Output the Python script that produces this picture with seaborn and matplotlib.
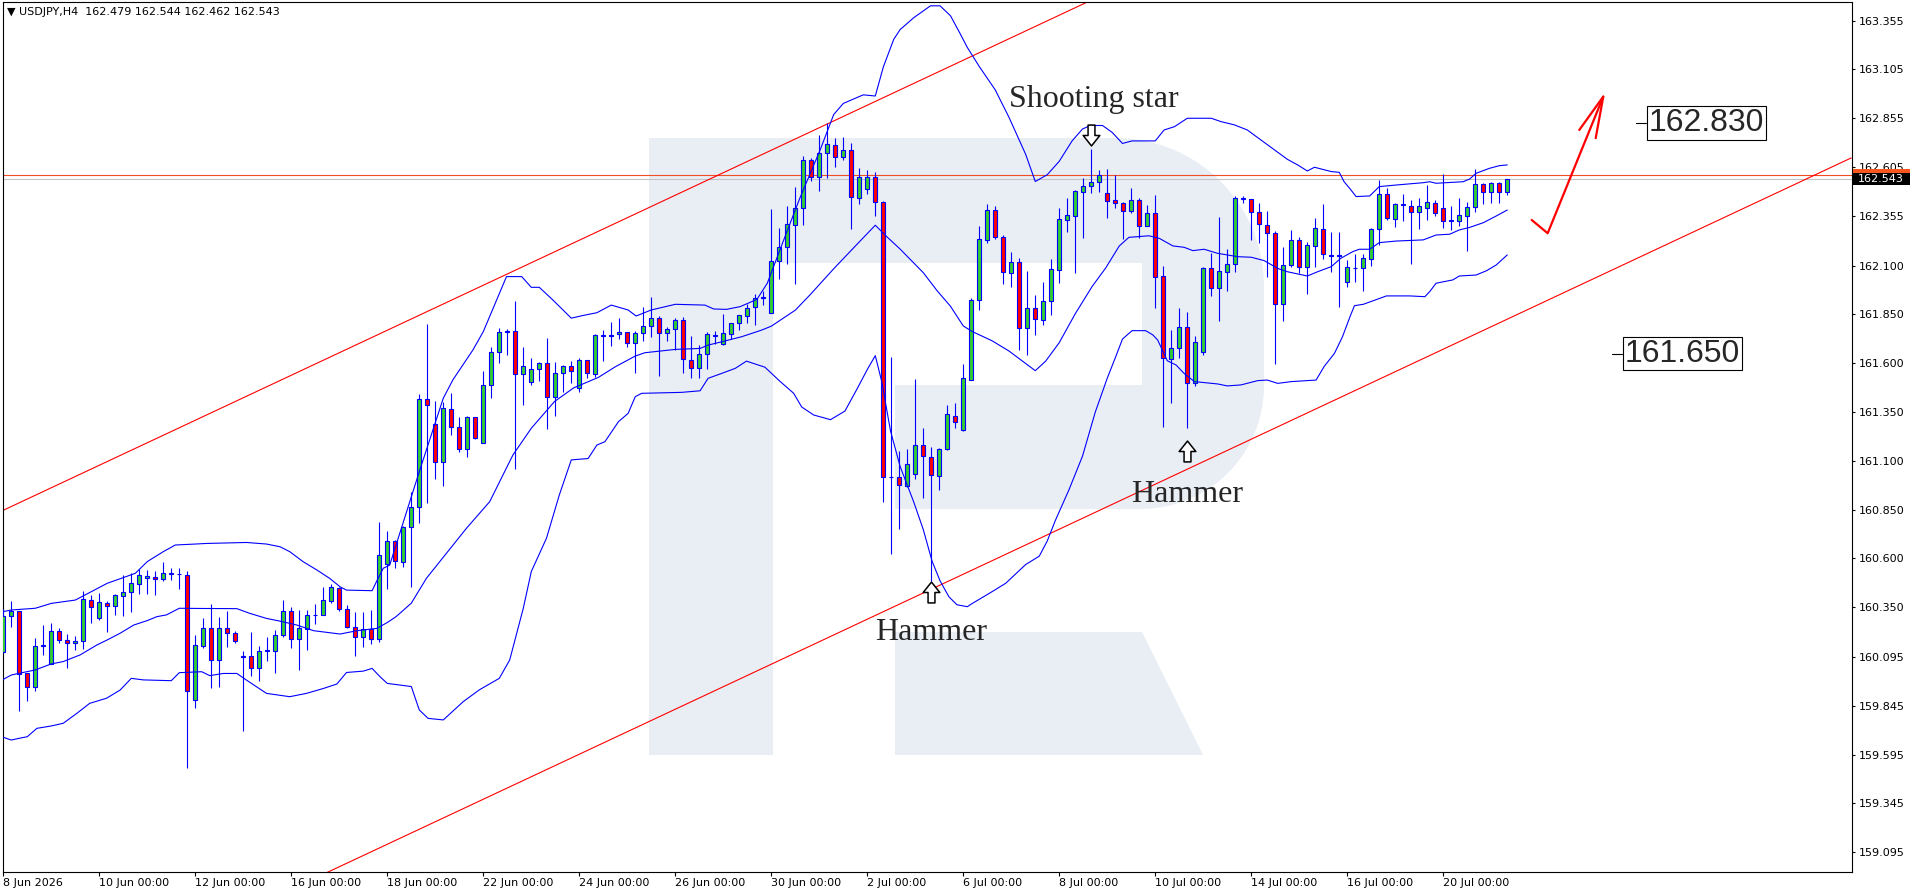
import numpy as np
import matplotlib
matplotlib.use("Agg")
import matplotlib.pyplot as plt
import matplotlib.transforms as mtransforms
from matplotlib.path import Path
from matplotlib.patches import Polygon, Rectangle
import seaborn as sns

sns.set_style("white")
plt.rcParams['font.family'] = ['DejaVu Sans']

# ---- USDJPY H4 candles ----
opens = [160.119, 160.307, 160.331, 160.015, 159.944, 160.152, 160.060, 160.227, 160.181, 160.166,
         160.176, 160.388, 160.297, 160.372, 160.355, 160.410, 160.427, 160.471, 160.502, 160.505,
         160.493, 160.520, 160.519, 160.514, 159.875, 160.153, 160.242, 160.078, 160.242, 160.216,
         160.098, 160.098, 160.037, 160.124, 160.124, 160.206, 160.329, 160.185, 160.240, 160.308,
         160.312, 160.380, 160.447, 160.339, 160.250, 160.196, 160.237, 160.185, 160.571, 160.690,
         160.582, 160.760, 160.862, 161.416, 161.288, 161.093, 161.364, 161.272, 161.160, 161.323,
         161.194, 161.487, 161.656, 161.759, 161.764, 161.544, 161.503, 161.569, 161.600, 161.426,
         161.549, 161.585, 161.472, 161.615, 161.543, 161.739, 161.742, 161.748, 161.758, 161.702,
         161.753, 161.789, 161.830, 161.753, 161.774, 161.820, 161.615, 161.574, 161.646, 161.739,
         161.697, 161.748, 161.804, 161.840, 161.886, 161.936, 161.855, 162.125, 162.194, 162.307,
         162.394, 162.641, 162.554, 162.675, 162.716, 162.657, 162.692, 162.449, 162.493, 162.554,
         162.424, 161.017, 161.017, 160.971, 161.031, 161.183, 161.118, 161.021, 161.159, 161.331,
         161.258, 161.515, 161.923, 162.232, 162.387, 162.248, 162.062, 162.120, 161.779, 161.883,
         161.823, 161.920, 162.080, 162.335, 162.354, 162.479, 162.510, 162.526, 162.474, 162.436,
         162.423, 162.380, 162.436, 162.305, 162.371, 162.046, 161.621, 161.677, 161.785, 161.498,
         161.656, 162.087, 161.984, 162.070, 162.107, 162.445, 162.440, 162.374, 162.307, 162.266,
         161.904, 162.104, 162.230, 162.092, 162.199, 162.288, 162.153, 162.150, 162.015, 162.086,
         162.086, 162.134, 162.286, 162.466, 162.341, 162.411, 162.407, 162.377, 162.397, 162.419,
         162.394, 162.331, 162.327, 162.356, 162.399, 162.517, 162.476, 162.525, 162.479]
highs = [160.341, 160.382, 160.331, 160.015, 160.193, 160.259, 160.270, 160.244, 160.213, 160.203,
         160.435, 160.413, 160.422, 160.381, 160.417, 160.514, 160.524, 160.548, 160.540, 160.536,
         160.582, 160.550, 160.550, 160.536, 160.208, 160.296, 160.366, 160.300, 160.331, 160.230,
         160.126, 160.223, 160.151, 160.199, 160.233, 160.387, 160.349, 160.336, 160.336, 160.366,
         160.452, 160.469, 160.452, 160.361, 160.327, 160.326, 160.336, 160.787, 160.741, 160.695,
         160.768, 160.939, 161.441, 161.802, 161.407, 161.404, 161.448, 161.323, 161.329, 161.326,
         161.561, 161.682, 161.781, 161.773, 161.918, 161.684, 161.626, 161.605, 161.730, 161.605,
         161.590, 161.612, 161.626, 161.618, 161.750, 161.770, 161.813, 161.830, 161.760, 161.765,
         161.886, 161.938, 161.844, 161.787, 161.830, 161.835, 161.739, 161.693, 161.762, 161.767,
         161.852, 161.808, 161.847, 161.902, 161.955, 161.972, 162.392, 162.293, 162.408, 162.503,
         162.661, 162.651, 162.769, 162.829, 162.752, 162.758, 162.728, 162.601, 162.590, 162.580,
         162.430, 161.633, 161.153, 161.159, 161.517, 161.268, 161.173, 161.167, 161.386, 161.396,
         161.598, 161.932, 162.305, 162.418, 162.406, 162.257, 162.172, 162.137, 162.071, 161.951,
         162.014, 162.132, 162.396, 162.448, 162.489, 162.549, 162.696, 162.592, 162.597, 162.566,
         162.427, 162.500, 162.444, 162.410, 162.462, 162.099, 161.768, 161.882, 161.865, 161.740,
         162.095, 162.167, 162.351, 162.186, 162.459, 162.458, 162.442, 162.420, 162.380, 162.278,
         162.198, 162.283, 162.247, 162.223, 162.346, 162.416, 162.273, 162.273, 162.130, 162.160,
         162.160, 162.291, 162.539, 162.496, 162.419, 162.467, 162.436, 162.445, 162.513, 162.436,
         162.568, 162.406, 162.445, 162.428, 162.594, 162.525, 162.530, 162.530, 162.544]
lows = [160.114, 160.251, 159.821, 159.872, 159.923, 160.107, 160.060, 160.166, 160.041, 160.131,
        160.138, 160.271, 160.285, 160.225, 160.311, 160.307, 160.326, 160.420, 160.420, 160.415,
        160.483, 160.490, 160.444, 159.525, 159.836, 160.139, 159.938, 159.943, 160.148, 160.168,
        159.718, 159.999, 159.974, 160.076, 160.015, 160.199, 160.143, 160.028, 160.131, 160.266,
        160.308, 160.373, 160.332, 160.242, 160.102, 160.148, 160.163, 160.174, 160.445, 160.550,
        160.558, 160.453, 160.784, 160.883, 161.006, 160.973, 161.230, 161.148, 161.118, 161.211,
        161.189, 161.424, 161.600, 161.643, 161.057, 161.388, 161.487, 161.511, 161.262, 161.332,
        161.455, 161.501, 161.455, 161.523, 161.531, 161.613, 161.690, 161.722, 161.685, 161.548,
        161.716, 161.736, 161.536, 161.714, 161.668, 161.552, 161.523, 161.523, 161.569, 161.697,
        161.693, 161.722, 161.769, 161.804, 161.794, 161.897, 161.855, 162.034, 162.109, 162.007,
        162.307, 162.536, 162.483, 162.550, 162.605, 162.641, 162.287, 162.414, 162.469, 162.352,
        160.890, 160.622, 160.752, 160.968, 161.007, 160.910, 160.485, 160.950, 161.155, 161.268,
        161.254, 161.512, 161.871, 162.215, 162.236, 162.005, 161.989, 161.666, 161.640, 161.743,
        161.797, 161.845, 162.010, 162.272, 162.062, 162.241, 162.474, 162.479, 162.344, 162.396,
        162.236, 162.370, 162.241, 162.303, 161.883, 161.276, 161.395, 161.626, 161.267, 161.481,
        161.643, 161.947, 161.817, 161.971, 162.065, 162.420, 162.229, 162.218, 162.044, 161.595,
        161.819, 162.095, 162.061, 161.957, 162.092, 162.133, 162.065, 161.887, 161.993, 162.018,
        161.972, 162.100, 162.206, 162.334, 162.300, 162.329, 162.109, 162.288, 162.334, 162.356,
        162.291, 162.283, 162.303, 162.177, 162.377, 162.414, 162.423, 162.423, 162.462]
closes = [160.307, 160.329, 160.008, 159.944, 160.152, 160.157, 160.229, 160.181, 160.166, 160.178,
          160.393, 160.350, 160.376, 160.355, 160.411, 160.427, 160.475, 160.514, 160.509, 160.493,
          160.524, 160.522, 160.521, 159.920, 160.157, 160.242, 160.078, 160.242, 160.216, 160.175,
          160.096, 160.037, 160.124, 160.129, 160.206, 160.329, 160.185, 160.243, 160.308, 160.312,
          160.385, 160.452, 160.339, 160.250, 160.196, 160.237, 160.185, 160.616, 160.690, 160.587,
          160.763, 160.862, 161.416, 161.385, 161.093, 161.370, 161.276, 161.160, 161.323, 161.216,
          161.487, 161.656, 161.759, 161.764, 161.544, 161.585, 161.569, 161.600, 161.426, 161.549,
          161.585, 161.559, 161.615, 161.548, 161.743, 161.743, 161.746, 161.758, 161.702, 161.753,
          161.789, 161.830, 161.753, 161.774, 161.820, 161.620, 161.574, 161.646, 161.748, 161.741,
          161.753, 161.804, 161.845, 161.881, 161.932, 161.938, 162.125, 162.194, 162.311, 162.394,
          162.641, 162.554, 162.675, 162.722, 162.657, 162.692, 162.453, 162.554, 162.554, 162.426,
          161.017, 161.015, 160.975, 161.086, 161.183, 161.123, 161.027, 161.159, 161.341, 161.299,
          161.523, 161.923, 162.239, 162.387, 162.248, 162.067, 162.120, 161.779, 161.883, 161.826,
          161.920, 162.083, 162.340, 162.357, 162.481, 162.510, 162.528, 162.562, 162.432, 162.423,
          162.380, 162.436, 162.305, 162.371, 162.043, 161.626, 161.677, 161.785, 161.498, 161.708,
          162.087, 161.984, 162.071, 162.107, 162.445, 162.442, 162.374, 162.312, 162.266, 161.904,
          162.102, 162.230, 162.092, 162.205, 162.292, 162.159, 162.151, 162.153, 162.092, 162.088,
          162.138, 162.286, 162.466, 162.343, 162.414, 162.412, 162.377, 162.404, 162.425, 162.368,
          162.327, 162.332, 162.358, 162.399, 162.517, 162.479, 162.525, 162.479, 162.543]

# ---- Bollinger bands, read at points along each line (bar index, price) ----
up_x = [0, 1, 4, 6, 9, 11, 13, 15, 16.5, 18, 20, 21.5, 24, 25.4, 30.4, 32.9, 34.6, 35.8, 37.5, 39.2,
        40.8, 42.1, 42.9, 46.1, 46.7, 47.5, 48.3, 52.0, 55.0, 56.2, 58.7, 60.0, 62.9, 64.8, 66.0, 67.0,
        68.7, 71.0, 72.5, 74.2, 76.0, 78.1, 79.1, 81.0, 84.0, 87.7, 88.8, 90.4, 92.1, 94.2, 95.5, 97.5,
        99.6, 102.1, 103.8, 105.0, 107.5, 109.0, 110.0, 111.3, 112.1, 113.8, 115.9, 117.1, 118.4, 119.6,
        120.5, 122.0, 124.0, 125.7, 127.8, 129.0, 130.5, 132.0, 133.6, 134.9, 135.9, 137.4, 138.6, 139.9,
        141.1, 144.0, 145.1, 146.4, 148.0, 151.0, 152.2, 153.9, 155.5, 157.2, 158.9, 160.5, 161.8, 163.0,
        163.9, 166.0, 167.0, 167.6, 168.3, 169.1, 170.8, 172.0, 174.1, 177.5, 178.3, 179.1, 182.5, 183.3,
        184.1, 185.8, 187.0, 188.0]
up_y = [160.328, 160.336, 160.345, 160.370, 160.387, 160.430, 160.473, 160.502, 160.524, 160.584,
        160.635, 160.669, 160.674, 160.677, 160.682, 160.674, 160.660, 160.635, 160.583, 160.541,
        160.498, 160.455, 160.438, 160.435, 160.486, 160.550, 160.566, 161.045, 161.421, 161.515,
        161.668, 161.762, 162.044, 162.044, 161.989, 161.989, 161.924, 161.831, 161.845, 161.859,
        161.898, 161.873, 161.842, 161.873, 161.902, 161.898, 161.878, 161.876, 161.890, 161.927,
        162.010, 162.226, 162.449, 162.692, 162.874, 162.931, 162.975, 162.969, 163.117, 163.259,
        163.309, 163.370, 163.431, 163.431, 163.380, 163.289, 163.218, 163.120, 163.000, 162.861,
        162.670, 162.531, 162.566, 162.635, 162.739, 162.800, 162.818, 162.818, 162.783, 162.726,
        162.739, 162.739, 162.795, 162.812, 162.855, 162.855, 162.838, 162.821, 162.795, 162.744,
        162.693, 162.645, 162.616, 162.585, 162.604, 162.582, 162.578, 162.530, 162.496, 162.454,
        162.457, 162.505, 162.513, 162.525, 162.530, 162.522, 162.530, 162.544, 162.573, 162.599,
        162.612, 162.616]
mid_x = [0, 1, 2, 4, 6, 7.5, 9.6, 11.7, 13, 14.6, 16.3, 18, 19.2, 20.4, 22, 24.6, 29.2, 30.8, 32.9, 34.6,
         36.7, 38.8, 42.1, 44.2, 46.7, 48.0, 49.1, 51.0, 52.9, 57.9, 60.8, 63.7, 66.0, 68.9, 71.3, 74.4,
         76.5, 79.0, 80.2, 84.0, 87.1, 88.1, 89.8, 92.3, 94.8, 96.0, 99.0, 100.9, 103.8, 107.1, 109.0,
         110.5, 112.1, 115.0, 116.7, 118.4, 120.0, 121.1, 123.6, 125.7, 127.4, 129.0, 130.3, 132.0, 134.0,
         136.1, 137.8, 139.5, 140.7, 143.2, 144.5, 146.2, 147.6, 148.7, 150.1, 151.8, 154.3, 156.0, 157.6,
         159.3, 160.5, 163.0, 164.3, 166.0, 167.2, 168.7, 169.5, 170.8, 172.0, 174.1, 177.5, 179.1, 180.8,
         182.0, 183.3, 185.0, 186.6, 188.0]
mid_y = [159.981, 160.003, 160.012, 160.029, 160.060, 160.072, 160.106, 160.157, 160.183, 160.217,
         160.259, 160.282, 160.302, 160.311, 160.345, 160.344, 160.343, 160.319, 160.293, 160.279,
         160.259, 160.230, 160.213, 160.230, 160.242, 160.272, 160.302, 160.371, 160.499, 160.755,
         160.891, 161.130, 161.267, 161.404, 161.474, 161.528, 161.582, 161.637, 161.654, 161.671,
         161.676, 161.693, 161.710, 161.736, 161.770, 161.790, 161.872, 161.953, 162.084, 162.226,
         162.307, 162.246, 162.185, 162.064, 161.973, 161.892, 161.791, 161.763, 161.715, 161.663,
         161.611, 161.562, 161.611, 161.706, 161.854, 161.993, 162.088, 162.201, 162.245, 162.253,
         162.240, 162.201, 162.194, 162.177, 162.184, 162.163, 162.146, 162.143, 162.126, 162.086,
         162.069, 162.047, 162.069, 162.095, 162.138, 162.172, 162.184, 162.184, 162.218, 162.226,
         162.232, 162.257, 162.261, 162.283, 162.296, 162.320, 162.354, 162.385]
lo_x = [0, 1, 2, 3, 4.2, 6, 7.5, 9.2, 10.8, 12.9, 14.6, 16, 17.5, 21, 22, 24.8, 25.8, 27.5, 29.2, 30.4,
        32.9, 35.8, 37.9, 40.0, 41.7, 42.9, 45.0, 46.1, 47.1, 48.0, 51.0, 52.0, 53.1, 55.0, 57.5, 59.5,
        62.0, 63.3, 65.0, 66.0, 67.9, 69.5, 71.0, 73.1, 74.2, 75.2, 76.9, 78.1, 79.0, 79.8, 84.8, 87.1,
        88.1, 89.8, 91.5, 92.9, 94.0, 95.2, 97.1, 98.8, 99.8, 101.3, 103.4, 105.2, 106.7, 108.0, 109.0,
        109.8, 110.9, 112.1, 113.8, 115.0, 116.1, 117.1, 118.2, 119.2, 120.5, 121.1, 123.6, 125.3, 127.8,
        129.5, 130.5, 131.5, 133.2, 134.9, 136.5, 138.0, 139.0, 139.9, 141.1, 142.8, 143.7, 144.3, 145.5,
        146.6, 147.6, 148.9, 151.8, 153.0, 154.7, 156.8, 158.0, 159.3, 161.0, 164.1, 165.1, 166.4, 167.4,
        168.4, 168.9, 170.0, 172.9, 175.8, 177.7, 178.3, 179.1, 181.2, 182.0, 184.1, 185.4, 186.6, 188.0]
lo_y = [159.684, 159.670, 159.679, 159.687, 159.730, 159.742, 159.756, 159.807, 159.858, 159.884,
        159.926, 159.986, 159.978, 159.974, 160.015, 160.020, 160.000, 160.011, 160.011, 159.977,
        159.909, 159.892, 159.909, 159.934, 159.957, 160.016, 160.023, 160.037, 159.994, 159.960,
        159.944, 159.824, 159.781, 159.773, 159.867, 159.927, 159.986, 160.080, 160.345, 160.533,
        160.704, 160.925, 161.105, 161.112, 161.181, 161.198, 161.301, 161.343, 161.429, 161.446,
        161.451, 161.459, 161.523, 161.548, 161.574, 161.611, 161.596, 161.580, 161.507, 161.446,
        161.376, 161.335, 161.311, 161.355, 161.467, 161.568, 161.639, 161.507, 161.254, 161.072,
        160.890, 160.748, 160.586, 160.485, 160.404, 160.363, 160.353, 160.369, 160.430, 160.473,
        160.569, 160.612, 160.690, 160.794, 160.951, 161.124, 161.350, 161.524, 161.628, 161.724,
        161.767, 161.767, 161.745, 161.719, 161.613, 161.591, 161.548, 161.506, 161.494, 161.484,
        161.489, 161.511, 161.514, 161.497, 161.506, 161.514, 161.583, 161.651, 161.736, 161.845,
        161.895, 161.902, 161.945, 161.945, 161.941, 161.967, 162.010, 162.027, 162.047, 162.052,
        162.074, 162.103, 162.155]

# axis labels
x_labels = ["8 Jun 2026", "10 Jun 00:00", "12 Jun 00:00", "16 Jun 00:00", "18 Jun 00:00",
            "22 Jun 00:00", "24 Jun 00:00", "26 Jun 00:00", "30 Jun 00:00", "2 Jul 00:00",
            "6 Jul 00:00", "8 Jul 00:00", "10 Jul 00:00", "14 Jul 00:00", "16 Jul 00:00",
            "20 Jul 00:00"]
y_ticks = [163.355, 163.105, 162.855, 162.605, 162.355, 162.100, 161.850, 161.600, 161.350,
           161.100, 160.850, 160.600, 160.350, 160.095, 159.845, 159.595, 159.345, 159.095]

# channel (bar index, price) and levels
chan_upper = [(0, 160.847), (231, 165.285)]
chan_lower = [(0, 158.214), (231, 162.652)]
bid, ask = 162.543, 162.566
target_hi, target_lo = 162.830, 161.650
header = "\u25bc USDJPY,H4  162.479 162.544 162.462 162.543"

# hand drawn forecast arrow (bar index, price)
fc_x = [191.05, 193.05, 200.0]
fc_y = [162.334, 162.266, 162.966]
head_x = [197.0, 200.0, 199.05]
head_y = [162.795, 162.966, 162.753]

# ---- figure ----
W, H = 1916, 896
AX_L, AX_R, AX_T, AX_B = 2.5, 1852, 2.5, 872
fig = plt.figure(figsize=(W / 100, H / 100), dpi=100, facecolor='w')
ax = fig.add_axes([AX_L / W, (H - AX_B) / H, (AX_R - AX_L) / W, (AX_B - AX_T) / H])
ax.set_xlim(-0.1, 231.09)
ax.set_ylim(158.994, 163.448)


def px2ax(x, y):
    return ((x - AX_L) / (AX_R - AX_L), (AX_B - y) / (AX_B - AX_T))


# watermark logo
wm = [(649, 138), (1116, 138)]
for t in np.linspace(0, np.pi / 2, 20):
    wm.append((1116 + 148 * np.sin(t), 286 - 148 * np.cos(t)))
for t in np.linspace(0, np.pi / 2, 20):
    wm.append((1141 + 123 * np.cos(t), 386 + 123 * np.sin(t)))
wm += [(895, 509), (895, 385), (1142, 385), (1142, 263), (773, 263), (773, 755), (649, 755)]
leg = [(895, 632), (1142, 632), (1203, 755), (895, 755)]
for shape in (wm, leg):
    ax.add_patch(Polygon([px2ax(*p) for p in shape], closed=True, transform=ax.transAxes,
                         facecolor='#e9edf4', edgecolor='none', zorder=0))

# channel lines
for seg in (chan_upper, chan_lower):
    ax.plot([seg[0][0], seg[1][0]], [seg[0][1], seg[1][1]], color='#ff0000', lw=0.8, zorder=2)

# bid / ask lines
ax.axhline(ask, color='#f04e23', lw=0.8, zorder=1.5)
ax.axhline(bid, color='#c4c4c4', lw=0.8, zorder=1.5)

# candles
idx = np.arange(len(opens))
o = np.array(opens); c = np.array(closes)
ax.vlines(idx, lows, highs, color='#0000ff', lw=0.8, zorder=4)
body_lo = np.minimum(o, c)
body_h = np.maximum(np.abs(c - o), 0.004)
cols = np.where(c >= o, '#32cd32', '#ff0000')
ax.bar(idx, body_h, bottom=body_lo, width=0.5, color=cols, edgecolor='#0000ff',
       linewidth=0.8, zorder=5)

# Bollinger bands
for bx, by in ((up_x, up_y), (mid_x, mid_y), (lo_x, lo_y)):
    sns.lineplot(x=bx, y=by, ax=ax, color='#0000ff', linewidth=0.8, zorder=6)

# forecast arrow
ax.plot(fc_x, fc_y, color='#ff0000', lw=1.6, zorder=7, solid_capstyle='round')
ax.plot(head_x, head_y, color='#ff0000', lw=1.6, zorder=7, solid_capstyle='round')

# pattern marks
up_arrow = Path([(0, 1), (0.8, 0), (0.33, 0), (0.33, -1), (-0.33, -1), (-0.33, 0), (-0.8, 0), (0, 1)],
                [Path.MOVETO] + [Path.LINETO] * 6 + [Path.CLOSEPOLY])
dn_arrow = Path([(x, -y) for x, y in up_arrow.vertices], up_arrow.codes)
ax.plot([116, 148], [160.428, 161.151], ls='none', marker=up_arrow, markersize=15,
        markerfacecolor='white', markeredgecolor='black', markeredgewidth=1.1, zorder=8)
ax.plot([136], [162.769], ls='none', marker=dn_arrow, markersize=15,
        markerfacecolor='white', markeredgecolor='black', markeredgewidth=1.1, zorder=8)
serif = ['Liberation Serif', 'DejaVu Serif']
ax.text(136.3, 162.913, "Shooting star", family=serif, fontsize=23, ha='center', va='baseline', zorder=8)
ax.text(116, 160.182, "Hammer", family=serif, fontsize=23, ha='center', va='baseline', zorder=8)
ax.text(148, 160.891, "Hammer", family=serif, fontsize=23, ha='center', va='baseline', zorder=8)

# level labels
for lvl, x0 in ((target_hi, 205.4), (target_lo, 202.4)):
    ax.plot([x0 - 1.35, x0], [lvl, lvl], color='black', lw=0.8, zorder=8)
    ax.text(x0 + 0.25, lvl, f"{lvl:.3f}", family=['Liberation Sans', 'DejaVu Sans'], fontsize=23,
            ha='left', va='center', zorder=8,
            bbox=dict(boxstyle='square,pad=0.06', facecolor='white', edgecolor='black', linewidth=0.8))

# ticks
ax.set_xticks(np.arange(0, 181, 12))
ax.set_xticklabels(x_labels, ha='left')
ax.tick_params(axis='x', direction='out', length=3, width=0.8, pad=1.5, labelsize=8,
               colors='black', bottom=True)
ax.yaxis.tick_right()
ax.set_yticks(y_ticks)
ax.set_yticklabels([f"{v:.3f}" for v in y_ticks])
ax.tick_params(axis='y', direction='out', length=2.5, width=0.8, pad=2.5, labelsize=8,
               colors='black', right=True)
for s in ax.spines.values():
    s.set_color('black')
    s.set_linewidth(0.8)

# current price tags on the scale
blend = mtransforms.blended_transform_factory(ax.transAxes, ax.transData)
tag_w = (1909 - AX_R) / (AX_R - AX_L)
tag_h = 12 / 195.2
ax.add_patch(Rectangle((1.0004, ask - tag_h / 2), tag_w, tag_h, transform=blend,
                       facecolor='#f8561c', edgecolor='none', clip_on=False, zorder=9))
ax.add_patch(Rectangle((1.0004, bid - tag_h / 2), tag_w, tag_h, transform=blend,
                       facecolor='black', edgecolor='none', clip_on=False, zorder=10))
ax.text(1.0004 + tag_w / 2, bid, f"{bid:.3f}", transform=blend, color='white', fontsize=8,
        ha='center', va='center', clip_on=False, zorder=11)

fig.text(7 / W, 1 - 12 / H, header, fontsize=8, ha='left', va='center', color='black')

plt.savefig('out.png', dpi=100)
